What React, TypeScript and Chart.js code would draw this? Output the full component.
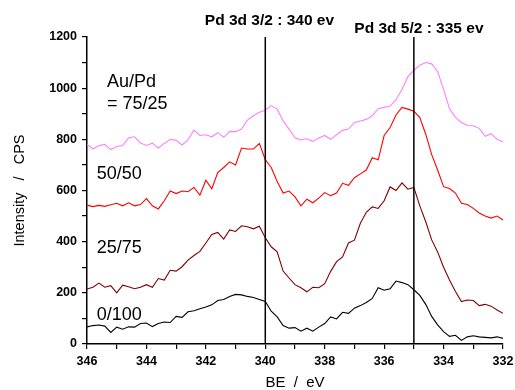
import React, { useEffect, useRef } from "react";
import { Chart, registerables } from "chart.js";

Chart.register(...registerables);

// Binding energy axis (eV), shared by all spectra
const BE = [
  346, 345.8, 345.6, 345.4, 345.2, 345, 344.8, 344.6, 344.4, 344.2,
  344, 343.8, 343.6, 343.4, 343.2, 343, 342.8, 342.6, 342.4, 342.2,
  342, 341.8, 341.6, 341.4, 341.2, 341, 340.8, 340.6, 340.4, 340.2,
  340, 339.8, 339.6, 339.4, 339.2, 339, 338.8, 338.6, 338.4, 338.2,
  338, 337.8, 337.6, 337.4, 337.2, 337, 336.8, 336.6, 336.4, 336.2,
  336, 335.8, 335.6, 335.4, 335.2, 335, 334.8, 334.6, 334.4, 334.2,
  334, 333.8, 333.6, 333.4, 333.2, 333, 332.8, 332.6, 332.4, 332.2,
  332,
];

// Intensity (CPS) for each Au/Pd composition
const PD100 = [
  67, 72, 74, 70, 45, 66, 58, 67, 66, 80,
  82, 68, 80, 86, 84, 108, 104, 126, 130, 138,
  145, 153, 170, 174, 186, 194, 192, 186, 182, 174,
  166, 128, 106, 72, 62, 64, 50, 62, 50, 66,
  80, 106, 98, 124, 120, 140, 150, 162, 178, 220,
  210, 216, 246, 240, 232, 212, 190, 155, 108, 75,
  48, 30, 34, 14, 28, 32, 28, 26, 24, 28,
  22,
];
const AU25 = [
  215, 222, 238, 222, 228, 200, 230, 224, 216, 222,
  232, 222, 256, 250, 288, 285, 302, 328, 346, 362,
  395, 428, 436, 410, 446, 440, 462, 458, 450, 460,
  415, 380, 360, 285, 258, 232, 220, 204, 222, 220,
  236, 284, 322, 340, 395, 406, 472, 515, 536, 530,
  560, 614, 600, 630, 605, 612, 540, 478, 407, 360,
  300, 250, 205, 166, 172, 170, 150, 155, 148, 133,
  120,
];
const AU50 = [
  543, 537, 542, 538, 544, 550, 540, 552, 540, 545,
  568, 540, 528, 560, 598, 588, 598, 595, 612, 582,
  640, 607, 670, 690, 712, 700, 766, 762, 762, 784,
  720, 690, 635, 590, 598, 575, 540, 566, 552, 570,
  592, 580, 590, 628, 620, 650, 665, 680, 728, 720,
  815, 846, 895, 925, 918, 910, 885, 820, 740, 680,
  615, 608, 590, 550, 545, 530, 512, 500, 492, 500,
  485,
];
const AU75 = [
  780, 763, 775, 780, 760, 772, 776, 806, 810, 786,
  776, 785, 766, 784, 800, 796, 778, 798, 836, 815,
  818, 810, 826, 808, 830, 830, 840, 875, 892, 906,
  914, 932, 918, 872, 840, 806, 798, 802, 792, 805,
  815, 800, 818, 835, 840, 866, 872, 878, 892, 920,
  925, 930, 955, 995, 1045, 1070, 1090, 1100, 1095, 1065,
  995, 920, 886, 866, 854, 853, 843, 812, 822, 800,
  790,
];

// Reference peak positions (eV)
const PEAKS = [340, 335];

const FONT = "'Liberation Sans', Arial, Helvetica, sans-serif";

const SERIES_LABELS = [
  { text: "Au/Pd", x: 345.33, y: 1004 },
  { text: "= 75/25", x: 345.33, y: 918 },
  { text: "50/50", x: 345.67, y: 644 },
  { text: "25/75", x: 345.67, y: 355 },
  { text: "0/100", x: 345.67, y: 94 },
];
const PEAK_LABELS = [
  { text: "Pd 3d 3/2 : 340 ev", x: 339.86, y: 1245 },
  { text: "Pd 3d 5/2 : 335 ev", x: 334.83, y: 1216 },
];

const textPlugin = {
  id: "textLabels",
  afterDatasetsDraw(chart: any) {
    const { ctx, scales } = chart;
    const xs = scales.x;
    const ys = scales.y;
    ctx.save();
    ctx.fillStyle = "#000";
    ctx.textBaseline = "alphabetic";
    ctx.font = `18px ${FONT}`;
    ctx.textAlign = "left";
    SERIES_LABELS.forEach((l) => {
      ctx.fillText(l.text, xs.getPixelForValue(l.x), ys.getPixelForValue(l.y));
    });
    ctx.font = `bold 15.5px ${FONT}`;
    ctx.textAlign = "center";
    PEAK_LABELS.forEach((l) => {
      ctx.fillText(l.text, xs.getPixelForValue(l.x), ys.getPixelForValue(l.y));
    });
    ctx.restore();
  },
};

function series(vals: number[]) {
  return BE.map((x, i) => ({ x, y: vals[i] }));
}

export default function App() {
  const ref = useRef<HTMLCanvasElement | null>(null);

  useEffect(() => {
    if (!ref.current) return;
    const lineStyle = (color: string, order: number) => ({
      borderColor: color,
      backgroundColor: color,
      borderWidth: 1.1,
      pointRadius: 0,
      tension: 0,
      fill: false,
      order,
    });
    const datasets: any[] = [
      { label: "75/25", data: series(AU75), ...lineStyle("#ff80ff", 5) },
      { label: "50/50", data: series(AU50), ...lineStyle("#ff0000", 4) },
      { label: "25/75", data: series(AU25), ...lineStyle("#800000", 3) },
      { label: "0/100", data: series(PD100), ...lineStyle("#000000", 2) },
    ];
    PEAKS.forEach((p) => {
      datasets.push({
        label: `peak ${p}`,
        data: [
          { x: p, y: 0 },
          { x: p, y: 1200 },
        ],
        borderColor: "#000",
        borderWidth: 1.5,
        pointRadius: 0,
        fill: false,
        order: 1,
      });
    });

    const chart = new Chart(ref.current, {
      type: "line",
      data: { datasets },
      options: {
        responsive: false,
        animation: false,
        devicePixelRatio: 1,
        layout: { padding: { top: 37, right: 12, left: 0, bottom: 0 } },
        plugins: {
          legend: { display: false },
          tooltip: { enabled: false },
        },
        scales: {
          x: {
            type: "linear",
            reverse: true,
            min: 332,
            max: 346,
            afterFit: (s: any) => {
              s.height = 46;
              s.paddingLeft = 0;
              s.paddingRight = 0;
            },
            ticks: {
              stepSize: 1,
              autoSkip: false,
              maxRotation: 0,
              padding: 5,
              color: "#000",
              font: { family: FONT, size: 12.5, weight: "bold" },
              callback: (v: any) => (Number(v) % 2 === 0 ? String(v) : ""),
            },
            grid: {
              drawOnChartArea: false,
              drawTicks: true,
              tickLength: 5,
              color: "#000",
              lineWidth: 1.2,
            },
            border: { display: true, color: "#000", width: 1.5 },
            title: {
              display: true,
              text: "BE  /  eV",
              color: "#000",
              font: { family: FONT, size: 15, lineHeight: 1 },
              padding: { top: 0, bottom: 0 },
            },
          },
          y: {
            min: 0,
            max: 1200,
            afterFit: (s: any) => {
              s.width = 87;
              s.paddingTop = 0;
              s.paddingBottom = 0;
            },
            ticks: {
              stepSize: 100,
              autoSkip: false,
              padding: 5,
              color: "#000",
              font: { family: FONT, size: 12.5, weight: "bold" },
              callback: (v: any) => (Number(v) % 200 === 0 ? String(v) : ""),
            },
            grid: {
              drawOnChartArea: false,
              drawTicks: true,
              tickLength: 5,
              color: "#000",
              lineWidth: 1.2,
            },
            border: { display: true, color: "#000", width: 1.5 },
            title: {
              display: true,
              text: "Intensity   /   CPS",
              color: "#000",
              font: { family: FONT, size: 14.5, lineHeight: 1 },
              padding: { top: 13, bottom: 0 },
            },
          },
        },
      } as any,
      plugins: [textPlugin],
    });
    return () => chart.destroy();
  }, []);

  return (
    <div style={{ position: "fixed", left: 0, top: 0, width: 515, height: 390, background: "#fff" }}>
      <canvas ref={ref} width={515} height={390} style={{ display: "block" }} />
    </div>
  );
}
